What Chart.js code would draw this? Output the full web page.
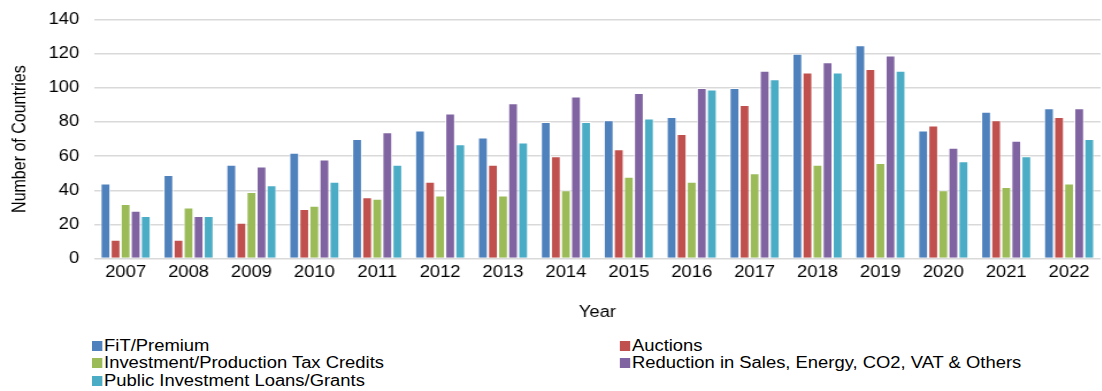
<!DOCTYPE html>
<html>
<head>
<meta charset="utf-8">
<script src="https://cdn.jsdelivr.net/npm/chart.js@4"></script>
<style>
  body { margin: 0; background: #fff; font-family: "Liberation Sans", Arial, sans-serif; overflow: hidden; }
  #wrap { position: relative; width: 958px; height: 325px; margin-top: -3px; transform: scaleX(1.15); transform-origin: left top; }
  #legend { position: absolute; left: 92px; top: 337px; width: 880px; display: grid;
            grid-template-columns: 459px 420px; font-size: 16px; color: #000;
            transform: scaleX(1.15); transform-origin: left top; }
  .item { display: flex; align-items: center; height: 17.5px; }
  .box { width: 8.5px; height: 10px; margin-right: 2px; }
</style>
</head>
<body>
<div id="wrap"><canvas id="grafico" width="958" height="325"></canvas></div>
<div id="legend"></div>
<script>
const years = ["2007","2008","2009","2010","2011","2012","2013","2014","2015","2016","2017","2018","2019","2020","2021","2022"];
const seriesNames = ["FiT/Premium", "Auctions", "Investment/Production Tax Credits",
  "Reduction in Sales, Energy, CO2, VAT & Others", "Public Investment Loans/Grants"];
const fit = [44, 49, 55, 62, 70, 75, 71, 80, 81, 83, 100, 120, 125, 75, 86, 88];
const auctions = [11, 11, 21, 29, 36, 45, 55, 60, 64, 73, 90, 109, 111, 78, 81, 83];
const taxCredits = [32, 30, 39, 31, 35, 37, 37, 40, 48, 45, 50, 55, 56, 40, 42, 44];
const reductions = [28, 25, 54, 58, 74, 85, 91, 95, 97, 100, 110, 115, 119, 65, 69, 88];
const loans = [25, 25, 43, 45, 55, 67, 68, 80, 82, 99, 105, 109, 110, 57, 60, 70];
const colores = ["#4F81BD", "#C0504D", "#9BBB59", "#8064A2", "#4BACC6"];

const valores = [fit, auctions, taxCredits, reductions, loans];

const legend = document.getElementById("legend");
seriesNames.forEach((nombre, i) => {
  const item = document.createElement("div");
  item.className = "item";
  item.innerHTML = `<span class="box" style="background:${colores[i]}"></span><span></span>`;
  item.lastChild.textContent = nombre;
  legend.appendChild(item);
});

const fuente = { size: 16, family: "Liberation Sans" };

// the reference is a bit stretched sideways, so the chart is drawn narrower and scaled by css
new Chart(document.getElementById("grafico"), {
  type: "bar",
  data: {
    labels: years,
    datasets: valores.map((d, i) => ({
      label: seriesNames[i],
      data: d,
      backgroundColor: colores[i],
      borderColor: "rgba(255,255,255,0.8)",
      borderWidth: { top: 1, left: 1, right: 1, bottom: 0 },
      barPercentage: 1,
      categoryPercentage: 0.8
    }))
  },
  options: {
    responsive: false,
    devicePixelRatio: 1,
    animation: false,
    layout: { padding: { top: 4, right: 1, left: 2, bottom: 0 } },
    plugins: { legend: { display: false }, tooltip: { enabled: false } },
    scales: {
      x: {
        grid: { display: false, drawTicks: false, tickLength: 0 },
        border: { display: false },
        ticks: { color: "#000", font: fuente, padding: 4, maxRotation: 0 },
        title: { display: true, text: "Year", color: "#000", font: fuente, padding: { top: 17, bottom: 0 } }
      },
      y: {
        min: 0,
        max: 140,
        ticks: { stepSize: 20, color: "#000", font: fuente, padding: 13 },
        grid: { color: "#d9d9d9", lineWidth: 1.5, drawTicks: false },
        border: { display: false },
        title: { display: true, text: "Number of Countries", color: "#000", font: fuente, padding: { top: 6, bottom: 2 } }
      }
    }
  }
});
</script>
</body>
</html>
